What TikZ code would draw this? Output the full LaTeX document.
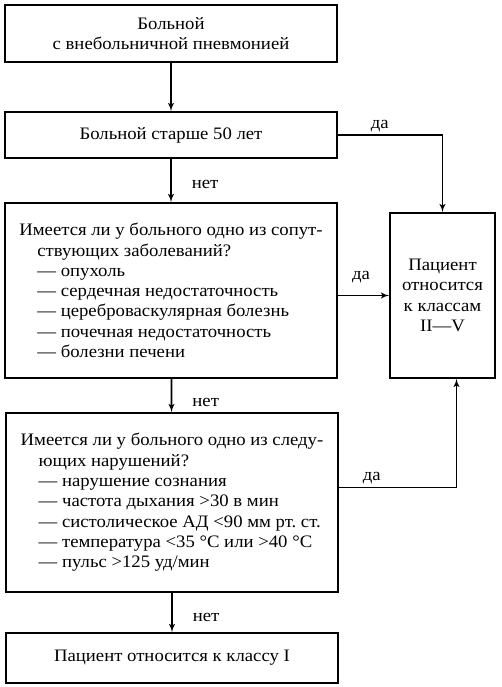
\documentclass[tikz,border=0pt]{standalone}
\usepackage{fontspec}
\setmainfont[FakeStretch=1.07]{Liberation Serif}
\usetikzlibrary{shapes,arrows,positioning}
\newcommand{\itm}[1]{\\\hspace*{18pt}— #1}

\begin{document}
\frenchspacing
\begin{tikzpicture}[x=1pt, y=-1pt, >=latex', line width=1.8pt,
    box/.style={rectangle, draw, inner sep=0pt, font=\fontsize{17.5}{20.3}\selectfont},
    qbox/.style={box, align=left},
    lbl/.style={font=\fontsize{17.5}{20.3}\selectfont, inner sep=2pt},
    ar/.style={->}]
    \useasboundingbox (0,0) rectangle (502,687);
    \node [box, minimum width=332pt, minimum height=57pt, align=center] (start) at (171,33.5) {Больной\\с внебольничной пневмонией};
    \node [box, minimum width=332pt, minimum height=46pt] (age) at (171,135) {Больной старше 50 лет};
    \node [qbox, minimum width=332pt, minimum height=175pt] (comorb) at (171,290.5) {Имеется ли у больного одно из сопут-\\\hspace*{18pt}ствующих заболеваний?\itm{опухоль}\itm{сердечная недостаточность}\itm{цереброваскулярная болезнь}\itm{почечная недостаточность}\itm{болезни печени}};
    \node [box, minimum width=105pt, minimum height=165pt, align=center] (cls25) at (442.5,295.5) {Пациент\\относится\\к классам\\II—V};
    \node [qbox, minimum width=332pt, minimum height=179pt] (signs) at (172,502.5) {Имеется ли у больного одно из следу-\\\hspace*{18pt}ющих нарушений?\itm{нарушение сознания}\itm{частота дыхания >30 в мин}\itm{систолическое АД <90 мм рт. ст.}\itm{температура <35 °С или >40 °С}\itm{пульс >125 уд/мин}};
    \node [box, minimum width=332pt, minimum height=50pt] (cls1) at (172,658) {Пациент относится к классу I};
    \draw [ar] (start) -- (age);
    \draw [ar] (age) -- node [lbl, pos=0.6, right=18pt] {нет} (comorb);
    \draw [ar] (comorb) -- node [lbl, pos=0.7, right=18pt] {нет} (signs);
    \draw [ar] (signs) -- node [lbl, pos=0.63, right=18pt] {нет} (cls1);
    \draw [ar] (age.east) -| node [lbl, pos=0.2, above=0pt] {да} (cls25.north);
    \draw [ar] (cls25.west -| comorb.east) -- node [lbl, pos=0.45, above=10pt] {да} (cls25.west);
    \draw [ar] ([yshift=15pt]signs.east) -| node [lbl, pos=0.14, above=1pt] {да} ([xshift=14pt]cls25.south);
\end{tikzpicture}
\end{document}
